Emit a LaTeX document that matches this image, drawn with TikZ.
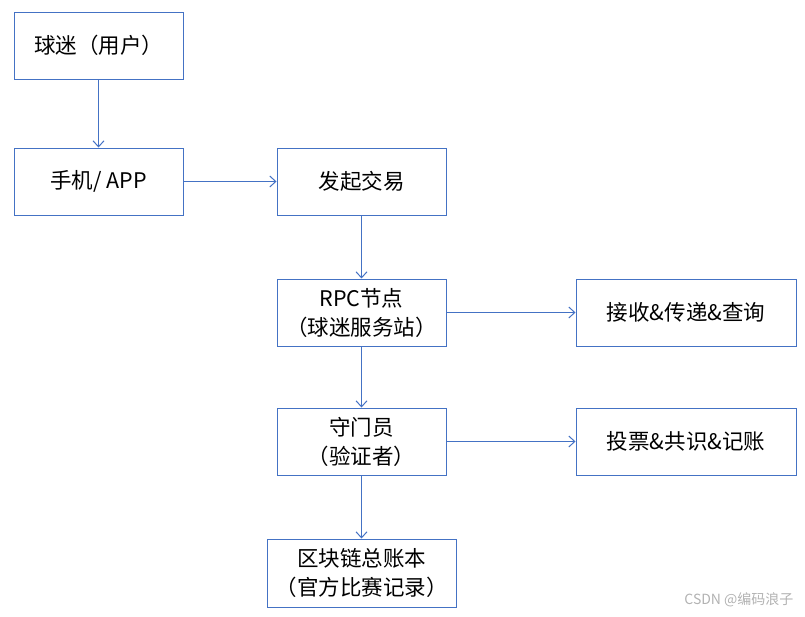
\documentclass[tikz,border=0pt]{standalone}
\usepackage{fontspec}
\setmainfont{Noto Sans CJK SC}
\usetikzlibrary{positioning,arrows.meta}
\definecolor{bleu}{HTML}{4472C4}
\begin{document}
\begin{tikzpicture}[x=1pt,y=1pt,node distance=64pt]

    % Styles des noeuds
    \tikzstyle{boite} = [rectangle, minimum width=169pt, minimum height=67pt, text centered, align=center, draw=bleu, line width=1pt, fill=white, font=\fontsize{21.5}{29}\selectfont, inner sep=2pt]
    \tikzstyle{large} = [boite, minimum width=220pt]
    \tikzstyle{arrow} = [draw=bleu, line width=1pt, -{Straight Barb[length=6pt,width=11pt,line width=1pt]}]

    \useasboundingbox (0,0) rectangle (805,-616);

    % Noeuds
    \node (fan) [boite] at (98.5,-45.5) {球迷（用户）};
    \node (app) [boite, below=68pt of fan] {手机/ APP};
    \node (tx) [boite, right=93pt of app] {发起交易};
    \node (rpc) [boite, below=63pt of tx] {RPC节点\\（球迷服务站）};
    \node (recv) [large, right=129pt of rpc] {接收\&传递\&查询};
    \node (gard) [boite, below=61pt of rpc] {守门员\\（验证者）};
    \node (vote) [large, right=129pt of gard] {投票\&共识\&记账};
    \node (ledger) [boite, minimum width=189pt, minimum height=68pt, below=63pt of gard] {区块链总账本\\（官方比赛记录）};

    % Flèches
    \draw [arrow] (fan) -- (app);
    \draw [arrow] (app) -- (tx);
    \draw [arrow] (tx) -- (rpc);
    \draw [arrow] (rpc) -- (recv);
    \draw [arrow] (rpc) -- (gard);
    \draw [arrow] (gard) -- (vote);
    \draw [arrow] (gard) -- (ledger);

    % Filigrane
    \node (filigrane) [anchor=east, text=black!30, font=\fontsize{14}{16}\selectfont] at (797,-600) {CSDN @编码浪子};

\end{tikzpicture}
\end{document}
